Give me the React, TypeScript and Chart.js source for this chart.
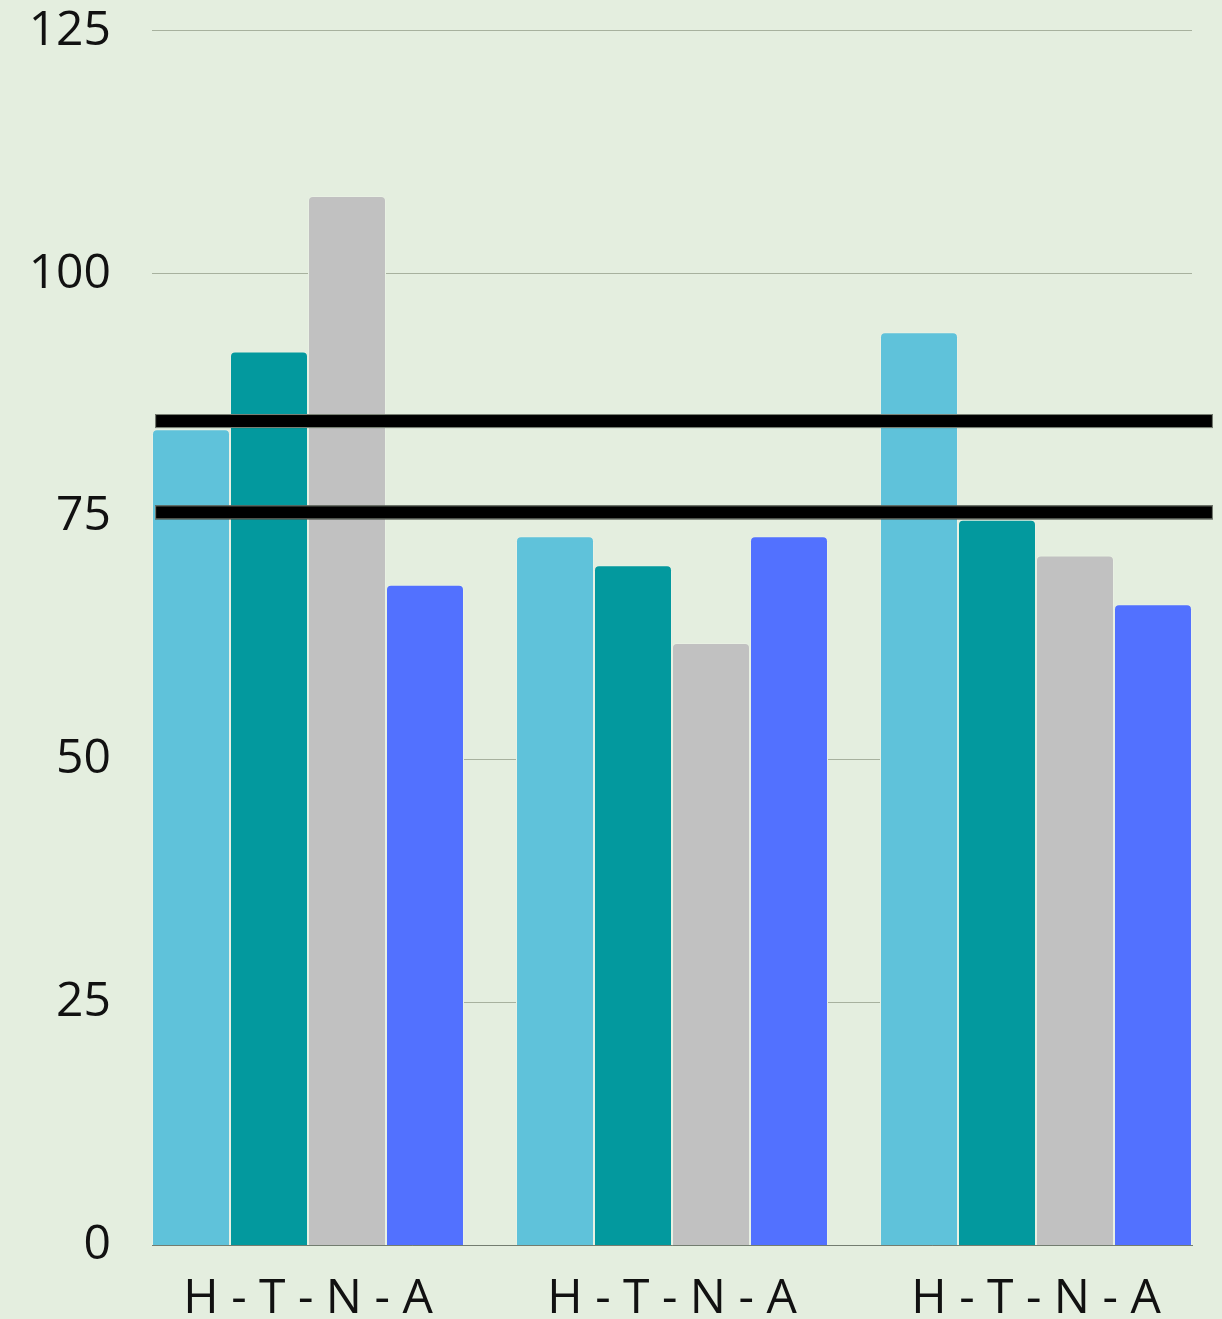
import React, { useEffect, useRef } from "react";
import { Chart, registerables } from "chart.js";

Chart.register(...registerables);

const categories = ["H - T - N - A", "H - T - N - A", "H - T - N - A"];
const seriesH = [84, 73, 94];
const seriesT = [92, 70, 74.7];
const seriesN = [108, 62, 71];
const seriesA = [68, 73, 66];
const seriesNames = ["H", "T", "N", "A"];
const yTicks = [0, 25, 50, 75, 100, 125];
const refLineValues = [84.85, 75.45];
const refLineSpan = [-0.42, 2.486];

const BG = "#e4eedf";
const COLORS = ["#5fc2da", "#03999e", "#c1c1c1", "#5271ff"];
const FONT = "'Open Sans', 'Noto Sans', sans-serif";

export default function App() {
  const ref = useRef<HTMLCanvasElement | null>(null);

  useEffect(() => {
    document.body.style.margin = "0";
    document.body.style.overflow = "hidden";
    document.body.style.background = BG;
    const canvas = ref.current;
    if (!canvas) return;

    const allSeries = [seriesH, seriesT, seriesN, seriesA];
    const datasets = allSeries.map((s, di) => ({
      label: seriesNames[di],
      data: s.map((v, i) => ({ x: i, y: v })),
      backgroundColor: COLORS[di],
      borderColor: "#e9f1e4",
      borderWidth: 1,
      borderSkipped: "bottom" as const,
      borderRadius: { topLeft: 5, topRight: 5, bottomLeft: 0, bottomRight: 0 },
      categoryPercentage: 6 / 7,
      barPercentage: 1,
    }));

    const refLines = {
      id: "refLines",
      afterDatasetsDraw(chart: any) {
        const { ctx, scales } = chart;
        const x0 = scales.x.getPixelForValue(refLineSpan[0]);
        const x1 = scales.x.getPixelForValue(refLineSpan[1]);
        ctx.save();
        refLineValues.forEach((v) => {
          const y = scales.y.getPixelForValue(v);
          const h = 14;
          ctx.fillStyle = "#000000";
          ctx.fillRect(x0, y - h / 2, x1 - x0, h);
          ctx.strokeStyle = "#7d8579";
          ctx.lineWidth = 1;
          ctx.strokeRect(x0 + 0.5, y - h / 2 + 0.5, x1 - x0 - 1, h - 1);
        });
        ctx.restore();
      },
    };

    const bgPlugin = {
      id: "bg",
      beforeDraw(chart: any) {
        const { ctx, width, height } = chart;
        ctx.save();
        ctx.fillStyle = BG;
        ctx.fillRect(0, 0, width, height);
        ctx.restore();
      },
    };

    const chart = new Chart(canvas, {
      type: "bar",
      data: { datasets: datasets as any },
      options: {
        animation: false,
        responsive: false,
        maintainAspectRatio: false,
        layout: { padding: { top: 0, right: 30, left: 0, bottom: 0 } },
        plugins: {
          legend: { display: false },
          tooltip: { enabled: false },
        },
        scales: {
          x: {
            type: "linear",
            offset: false,
            min: -3 / 7,
            max: 2 + 3 / 7,
            afterBuildTicks: (scale: any) => {
              scale.ticks = categories.map((_, i) => ({ value: i }));
            },
            ticks: {
              callback: (v: any) => {
                const i = Math.round(Number(v));
                return Math.abs(Number(v) - i) < 1e-6 ? categories[i] ?? "" : "";
              },
              color: "#111111",
              font: { family: FONT, size: 48, lineHeight: 1.2 },
              padding: 25,
              maxRotation: 0,
              autoSkip: false,
            },
            grid: { display: false, drawTicks: false },
            border: { display: true, color: "#737d70", width: 1 },
          },
          y: {
            min: 0,
            max: 125,
            afterBuildTicks: (scale: any) => {
              scale.ticks = yTicks.map((v) => ({ value: v }));
            },
            afterFit: (scale: any) => {
              scale.width = 152;
            },
            ticks: {
              color: "#111111",
              font: { family: FONT, size: 48, lineHeight: 1.29 },
              padding: 0,
            },
            grid: { color: "#a7b19e", lineWidth: 1, drawTicks: true, tickLength: 41, tickColor: "rgba(0,0,0,0)" },
            border: { display: false },
          },
        },
      },
      plugins: [bgPlugin, refLines],
    });

    return () => chart.destroy();
  }, []);

  return (
    <div style={{ width: 1222, height: 1319, background: BG, overflow: "hidden" }}>
      <canvas ref={ref} width={1222} height={1353} style={{ display: "block" }} />
    </div>
  );
}
